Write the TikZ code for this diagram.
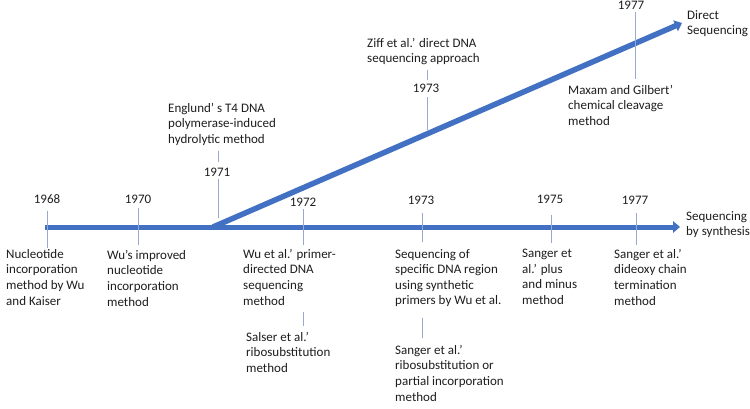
\documentclass[tikz,border=0pt]{standalone}
\usepackage{fontspec}
\setmainfont{Carlito}
\usetikzlibrary{arrows.meta,calc}
\definecolor{arrowblue}{RGB}{66,112,194}
\definecolor{tickgray}{RGB}{150,170,205}
\definecolor{txt}{RGB}{30,30,30}
\begin{document}
\begin{tikzpicture}[x=1pt,y=-1pt,
  lbl/.style={font=\fontsize{13}{15.6}\selectfont, text=txt, align=left, anchor=north west, inner sep=0pt},
  yr/.style={font=\fontsize{13}{15.6}\selectfont, text=txt, inner sep=0pt},
  tick/.style={draw=tickgray, line width=0.9pt},
  bigarrow/.style={draw=arrowblue, line width=5pt, -{Triangle[length=7pt,width=11.5pt]}}]
\useasboundingbox[fill=white] (0,0) rectangle (750,408);

% main arrows
\coordinate (hstart) at (45,227);
\coordinate (hend) at (680,227);
\coordinate (dstart) at (213,227);
\coordinate (dend) at (682,23);
\draw[bigarrow] (hstart) -- (hend);
\draw[bigarrow, line width=5.5pt] (dstart) -- (dend);

% bottom: sequencing by synthesis
\node[yr] (y1968) at (47,199) {1968};
\node[lbl] (t1968) at (6,249) {Nucleotide\\incorporation\\method by Wu\\and Kaiser};
\draw[tick] (y1968.south) ++(0,7) -- ++(0,37);

\node[yr] (y1970) at (138,199) {1970};
\node[lbl] (t1970) at (107,250) {Wu’s improved\\nucleotide\\incorporation\\method};
\draw[tick] (y1970.south) ++(0,5) -- ++(0,37);

\node[yr] (y1972) at (303,202) {1972};
\node[lbl] (t1972a) at (243,249) {Wu et al.’ primer-\\directed DNA\\sequencing\\method};
\node[lbl] (t1972b) at (246,332) {Salser et al.’\\ribosubstitution\\method};
\draw[tick] (y1972.south) ++(0,3) -- ++(0,36);
\draw[tick] (y1972.south) ++(0,106) -- ++(0,14);

\node[yr] (y1973) at (421,200) {1973};
\node[lbl] (t1973a) at (395,249) {Sequencing of\\specific DNA region\\using synthetic\\primers by Wu et al.};
\node[lbl] (t1973b) at (395,345) {Sanger et al.’\\ribosubstitution or\\partial incorporation\\method};
\draw[tick] (y1973.south) ++(1,9) -- ++(0,29);
\draw[tick] (y1973.south) ++(1,114) -- ++(0,20);

\node[yr] (y1975) at (550,199) {1975};
\node[lbl] (t1975) at (522,249) {Sanger et\\al.’ plus\\and minus\\method};
\draw[tick] (y1975.south) ++(1,12) -- ++(0,28);

\node[yr] (y1977) at (635,200) {1977};
\node[lbl] (t1977) at (614,249) {Sanger et al.’\\dideoxy chain\\termination\\method};
\draw[tick] (y1977.south) ++(1,9) -- ++(0,32);

\node[lbl] (synth) at (686,211) {Sequencing\\by synthesis};

% top: direct sequencing
\node[yr] (y1971) at (217,172) {1971};
\node[lbl] (t1971) at (168,103) {Englund’ s T4 DNA\\polymerase-induced\\hydrolytic method};
\draw[tick] (y1971.north) ++(1,-17) -- ++(0,11);
\draw[tick] (y1971.south) ++(1,3) -- ++(0,39);

\node[yr] (y1973t) at (426,88) {1973};
\node[lbl] (t1973t) at (367,38) {Ziff et al.’ direct DNA\\sequencing approach};
\draw[tick] (y1973t.north) ++(1,-14) -- ++(0,10);
\draw[tick] (y1973t.south) ++(1,5) -- ++(0,33);

\node[yr] (y1977t) at (631,5) {1977};
\node[lbl] (t1977t) at (568,85) {Maxam and Gilbert’\\chemical cleavage\\method};
\draw[tick] (y1977t.south) ++(4,3) -- ++(0,67);

\node[lbl] (direct) at (687,10) {Direct\\Sequencing};
\end{tikzpicture}
\end{document}
